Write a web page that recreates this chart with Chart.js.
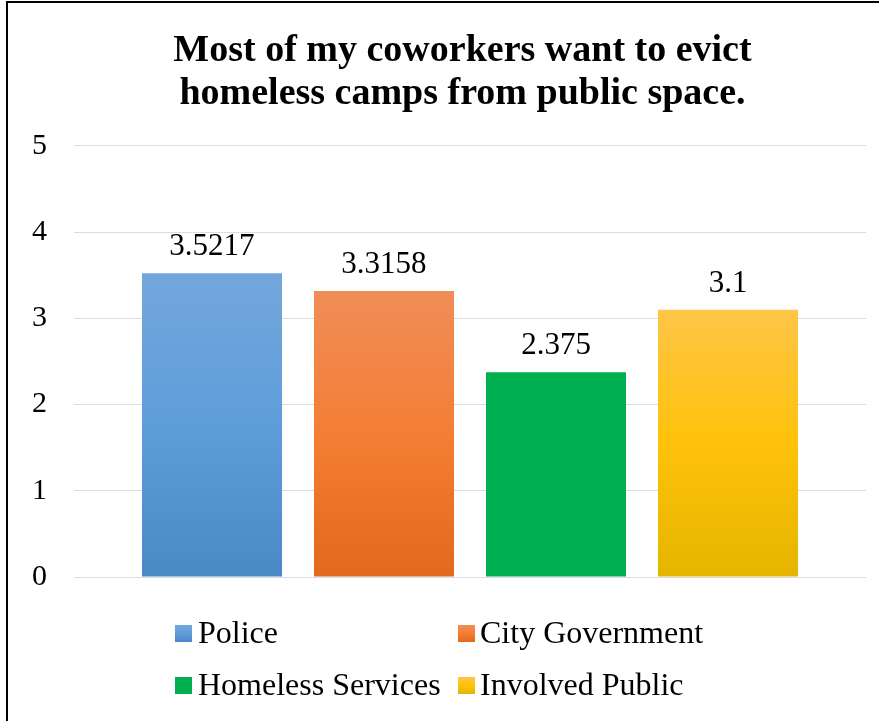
<!DOCTYPE html>
<html>
<head>
<meta charset="utf-8">
<script src="https://cdn.jsdelivr.net/npm/chart.js@4.4.1/dist/chart.umd.min.js"></script>
<style>
  html, body { margin: 0; padding: 0; background: #fff; }
  #wrap { position: relative; width: 879px; height: 721px; overflow: hidden; }
  #frame { position: absolute; left: 6px; top: 1px; width: 900px; height: 760px;
           border-left: 2px solid #000; border-top: 2px solid #000; pointer-events: none; }
  #legend { position: absolute; left: 0; top: 0; font-family: "Liberation Serif", "Times New Roman", serif;
            font-size: 32px; color: #000; }
  .item { position: absolute; white-space: nowrap; }
  .box { position: absolute; width: 17px; height: 17px; }
  .txt { position: absolute; line-height: 32px; }
</style>
</head>
<body>
<div id="wrap">
  <canvas id="evict-chart" width="879" height="721"></canvas>
  <div id="legend"></div>
  <div id="frame"></div>
</div>
<script>
// survey groups and mean answers
const groups = ['Police', 'City Government', 'Homeless Services', 'Involved Public'];
const means = [3.5217, 3.3158, 2.375, 3.1];
const yTicks = [0, 1, 2, 3, 4, 5];

// top / middle / bottom shades for each bar
const shades = [
    ['#73a7dc', '#5e9dda', '#4a88c6'],
    ['#f08d57', '#f47e35', '#e2691d'],
    ['#00b050', '#00b050', '#00b050'],
    ['#fec547', '#ffc20a', '#e4b500']
];

function barFill(i) {
    return function (ctx) {
        const chart = ctx.chart;
        const y = chart.scales.y;
        if (!chart.chartArea || !y) return shades[i][1];
        const top = y.getPixelForValue(means[i]);
        const bottom = y.getPixelForValue(0);
        const g = chart.ctx.createLinearGradient(0, top, 0, bottom);
        g.addColorStop(0, shades[i][0]);
        g.addColorStop(0.5, shades[i][1]);
        g.addColorStop(1, shades[i][2]);
        return g;
    };
}

// value text above each bar
const valueLabels = {
    id: 'valueLabels',
    afterDatasetsDraw(chart) {
        const c = chart.ctx;
        c.save();
        c.font = '31px "Liberation Serif", "Times New Roman", serif';
        c.fillStyle = '#000';
        c.textAlign = 'center';
        c.textBaseline = 'alphabetic';
        chart.data.datasets.forEach((ds, i) => {
            const bar = chart.getDatasetMeta(i).data[0];
            c.fillText(String(ds.data[0]), bar.x, bar.y - 18);
        });
        c.restore();
    }
};

// centre the title a little right of the canvas middle
const titleShift = {
    id: 'titleShift',
    afterLayout(chart) {
        if (chart.titleBlock) chart.titleBlock.left += 59;
    }
};

document.addEventListener('DOMContentLoaded', function () {
    const ctx = document.getElementById('evict-chart').getContext('2d');
    new Chart(ctx, {
        type: 'bar',
        data: {
            labels: [''],
            datasets: groups.map((g, i) => ({
                label: g,
                data: [means[i]],
                backgroundColor: barFill(i),
                borderWidth: 0,
                categoryPercentage: 0.8687,
                barPercentage: 0.814
            }))
        },
        options: {
            responsive: false,
            animation: false,
            layout: { padding: { top: 0, right: 13, bottom: 144, left: 0 } },
            plugins: {
                legend: { display: false },
                tooltip: { enabled: false },
                title: {
                    display: true,
                    text: ['Most of my coworkers want to evict', 'homeless camps from public space.'],
                    color: '#000',
                    font: { family: '"Liberation Serif", "Times New Roman", serif', size: 38, weight: 'bold', lineHeight: 1.13 },
                    padding: { top: 30, bottom: 30 }
                }
            },
            scales: {
                x: { display: false },
                y: {
                    min: 0,
                    max: 5,
                    afterBuildTicks(scale) { scale.ticks = yTicks.map(v => ({ value: v })); },
                    afterFit(scale) { scale.width = 74; },
                    border: { display: false },
                    grid: { color: '#dadde2', lineWidth: 1, drawTicks: false },
                    ticks: {
                        padding: 27,
                        color: '#000',
                        font: { family: '"Liberation Serif", "Times New Roman", serif', size: 30 }
                    }
                }
            }
        },
        plugins: [valueLabels, titleShift]
    });

    // two-column legend under the plot
    const legend = document.getElementById('legend');
    const cols = [175, 458];
    const rows = [625, 677];
    groups.forEach((g, i) => {
        const s = shades[i];
        const item = document.createElement('div');
        item.className = 'item';
        item.style.left = cols[i % 2] + 'px';
        item.style.top = rows[Math.floor(i / 2)] + 'px';
        const box = document.createElement('span');
        box.className = 'box';
        box.style.left = '0px';
        box.style.top = '0px';
        box.style.background = 'linear-gradient(' + s[0] + ',' + s[1] + ',' + s[2] + ')';
        const txt = document.createElement('span');
        txt.className = 'txt';
        txt.style.left = (i % 2 ? 22 : 23) + 'px';
        txt.style.top = '-9px';
        txt.textContent = g;
        item.appendChild(box);
        item.appendChild(txt);
        legend.appendChild(item);
    });
});
</script>
</body>
</html>
